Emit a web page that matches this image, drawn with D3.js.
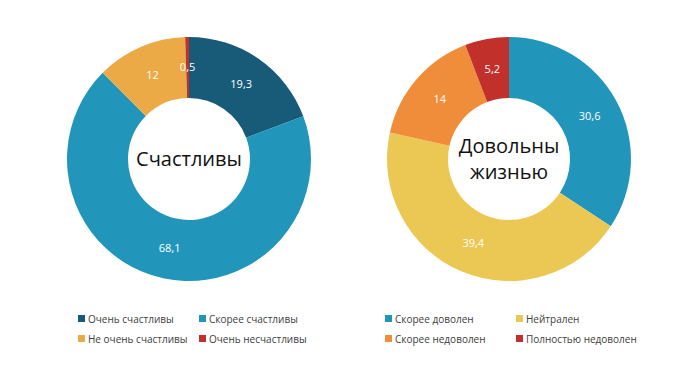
<!DOCTYPE html>
<html>
<head>
<meta charset="utf-8">
<script src="https://cdn.jsdelivr.net/npm/d3@7"></script>
<style>
  body { margin: 0; background: #fff; }
  text { font-family: "Open Sans", "Noto Sans", sans-serif; }
</style>
</head>
<body>
<div id="chart"></div>
<script>
// happiness donut
var happyCats = ["Очень счастливы", "Скорее счастливы", "Не очень счастливы", "Очень несчастливы"];
var happyVals = [19.3, 68.1, 12, 0.5];
var happyColors = ["#175b78", "#2196ba", "#ebaa46", "#c1302a"];

// life satisfaction donut
var lifeCats = ["Скорее доволен", "Нейтрален", "Скорее недоволен", "Полностью недоволен"];
var lifeVals = [30.6, 39.4, 14, 5.2];
var lifeColors = ["#2196ba", "#ebc853", "#ef8d3b", "#c1302a"];

var width = 692, height = 376;

var svg = d3.select("#chart")
  .append("svg")
    .attr("width", width)
    .attr("height", height);

var outerR = 122, innerR = 61;

function donut(cx, cy, cats, vals, colors, title, legendX, colGap) {
  var g = svg.append("g")
    .attr("transform", "translate(" + cx + "," + cy + ")");

  var color = d3.scaleOrdinal().domain(cats).range(colors);

  var pie = d3.pie().sort(null).value(function(d) { return d.v; });
  var arc = d3.arc().innerRadius(innerR).outerRadius(outerR);

  var data = cats.map(function(c, i) { return {c: c, v: vals[i]}; });
  var arcs = pie(data);

  g.selectAll("path")
    .data(arcs)
    .enter()
    .append("path")
      .attr("d", arc)
      .attr("fill", function(d) { return color(d.data.c); });

  // value labels
  g.selectAll(".lbl")
    .data(arcs)
    .enter()
    .append("text")
      .attr("class", "lbl")
      .attr("transform", function(d) { return "translate(" + arc.centroid(d) + ")"; })
      .attr("text-anchor", "middle")
      .attr("dy", "0.35em")
      .style("font-size", "11px")
      .style("fill", "#fff")
      .text(function(d) { return String(d.data.v).replace(".", ","); });

  // center title
  var lines = title.split("\n");
  var t = g.append("text")
    .attr("text-anchor", "middle")
    .style("font-size", "20px")
    .style("fill", "#111");
  lines.forEach(function(l, i) {
    t.append("tspan")
      .attr("x", 0)
      .attr("y", (i - (lines.length - 1) / 2) * 26)
      .attr("dy", "0.35em")
      .text(l);
  });

  // legend, 2 columns
  var leg = svg.append("g");
  cats.forEach(function(c, i) {
    var col = i % 2, row = Math.floor(i / 2);
    var lx = legendX + col * colGap, ly = 319 + row * 20;
    leg.append("rect")
      .attr("x", lx)
      .attr("y", ly - 4)
      .attr("width", 7)
      .attr("height", 7)
      .attr("fill", color(c));
    leg.append("text")
      .attr("x", lx + 10)
      .attr("y", ly)
      .attr("dy", "0.35em")
      .style("font-size", "10px")
      .style("fill", "#404040")
      .text(c);
  });
}

donut(189, 159, happyCats, happyVals, happyColors, "Счастливы", 78, 121);
donut(509, 159, lifeCats, lifeVals, lifeColors, "Довольны\nжизнью", 385, 131);
</script>
</body>
</html>
